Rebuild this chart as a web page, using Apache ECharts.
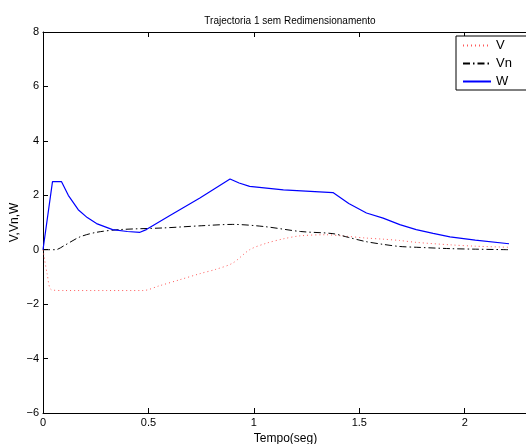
<!DOCTYPE html>
<html>
<head>
<meta charset="utf-8">
<script src="https://cdn.jsdelivr.net/npm/echarts@6/dist/echarts.min.js"></script>
<style>
html,body{margin:0;padding:0;background:#fff;}
#c{width:526px;height:444px;}
</style>
</head>
<body>
<div id="c"></div>
<script>
var titleText = 'Trajectoria 1 sem Redimensionamento';
var xLabel = 'Tempo(seg)';
var yLabel = 'V,Vn,W';
var seriesNames = ['V', 'Vn', 'W'];

var tV = [0, 0.02, 0.04, 0.1, 0.3, 0.475, 0.55, 0.65, 0.744, 0.82, 0.9, 0.98, 1.06, 1.14, 1.22, 1.34, 1.43, 1.53, 1.61, 1.69, 1.77, 1.93, 2.05, 2.21];
var V  = [0, -0.9, -1.47, -1.5, -1.5, -1.5, -1.33, -1.1, -0.88, -0.72, -0.49, 0.0, 0.24, 0.4, 0.51, 0.55, 0.5, 0.43, 0.39, 0.34, 0.27, 0.18, 0.13, 0.09];

var tVn = [0, 0.06, 0.1, 0.175, 0.254, 0.365, 0.57, 0.75, 0.9, 1.05, 1.22, 1.375, 1.45, 1.53, 1.61, 1.69, 1.77, 1.93, 2.05, 2.21];
var Vn  = [0, 0, 0.15, 0.47, 0.64, 0.74, 0.8, 0.88, 0.93, 0.85, 0.67, 0.59, 0.45, 0.3, 0.2, 0.12, 0.09, 0.04, 0.02, 0.0];

var tW = [0, 0.045, 0.088, 0.12, 0.167, 0.21, 0.254, 0.33, 0.40, 0.46, 0.49, 0.60, 0.744, 0.887, 0.93, 0.98, 1.14, 1.375, 1.45, 1.534, 1.613, 1.692, 1.77, 1.85, 1.93, 2.05, 2.21];
var W  = [0, 2.5, 2.5, 2.0, 1.47, 1.18, 0.96, 0.74, 0.67, 0.64, 0.74, 1.25, 1.9, 2.6, 2.45, 2.33, 2.2, 2.1, 1.7, 1.35, 1.16, 0.92, 0.74, 0.6, 0.47, 0.35, 0.22];

var xTicks = [0, 0.5, 1, 1.5, 2];
var yTicks = [-6, -4, -2, 0, 2, 4, 6, 8];

function pairs(t, v) { return t.map(function (x, i) { return [x, v[i]]; }); }
function fmt(v) { return String(v).replace('-', '\u2212'); }

var chart = echarts.init(document.getElementById('c'), null, {renderer: 'canvas'});
var FONT = 'Liberation Sans, Arial, sans-serif';
var axisCommon = {
  axisLine: {show: true, onZero: false, lineStyle: {color: '#000', width: 1}},
  axisTick: {show: true, inside: true, length: 5, lineStyle: {color: '#000'}},
  splitLine: {show: false}
};
chart.setOption({
  animation: false,
  backgroundColor: '#fff',
  title: {
    text: titleText, left: 285, top: 11, textAlign: 'center',
    textStyle: {fontFamily: FONT, fontSize: 10, fontWeight: 'normal', color: '#000'}
  },
  legend: {
    orient: 'vertical', left: 456, top: 36,
    data: seriesNames,
    itemWidth: 28, itemHeight: 10, itemGap: 5,
    itemStyle: {opacity: 0},
    padding: [3, 30, 2, 6],
    borderColor: '#000', borderWidth: 1, backgroundColor: '#fff',
    textStyle: {fontFamily: FONT, fontSize: 13, color: '#000'}
  },
  grid: {left: 43, top: 32, width: 485, height: 381, show: false, outerBoundsMode: 'none', containLabel: false},
  xAxis: [
    Object.assign({type: 'value', min: 0, max: 2.3, interval: 0.5, position: 'bottom',
      axisLabel: {show: true, color: '#000', fontFamily: FONT, fontSize: 11, margin: 4, showMaxLabel: false,
        formatter: function (v) { return xTicks.indexOf(v) >= 0 ? fmt(v) : ''; }},
      name: xLabel, nameLocation: 'middle', nameGap: 20, nameMoveOverlap: false,
      nameTextStyle: {fontFamily: FONT, fontSize: 12, color: '#000'}}, axisCommon),
    Object.assign({type: 'value', min: 0, max: 2.3, interval: 0.5, position: 'top',
      axisLabel: {show: false}}, axisCommon)
  ],
  yAxis: [
    Object.assign({type: 'value', min: -6, max: 8, interval: 2, position: 'left',
      axisLabel: {show: true, color: '#000', fontFamily: FONT, fontSize: 11, margin: 4,
        formatter: function (v) { return yTicks.indexOf(v) >= 0 ? fmt(v) : ''; }},
      name: yLabel, nameLocation: 'middle', nameGap: 22, nameRotate: 90, nameMoveOverlap: false,
      nameTextStyle: {fontFamily: FONT, fontSize: 12, color: '#000'}}, axisCommon)
  ],
  series: [
    {name: 'V', type: 'line', data: pairs(tV, V), symbol: 'none', smooth: 0.3,
      lineStyle: {color: '#ff5a5a', width: 1, type: [1, 3]}, itemStyle: {color: '#ff5a5a'}},
    {name: 'Vn', type: 'line', data: pairs(tVn, Vn), symbol: 'none', smooth: 0.3,
      lineStyle: {color: '#000', width: 1, type: [7, 3, 1.5, 3]}, itemStyle: {color: '#000'}},
    {name: 'W', type: 'line', data: pairs(tW, W), symbol: 'none', smooth: false,
      lineStyle: {color: '#0000ff', width: 1.2}, itemStyle: {color: '#0000ff'}}
  ]
});
</script>
</body>
</html>
